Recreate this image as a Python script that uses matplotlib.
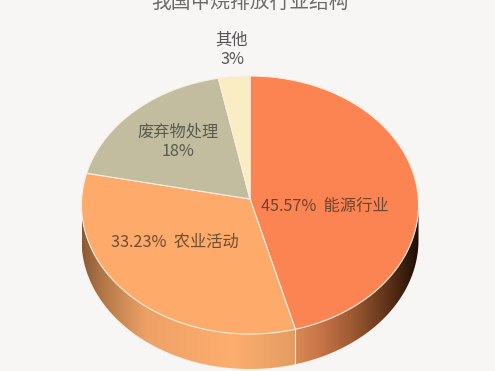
import numpy as np
import matplotlib
matplotlib.use('Agg')
import matplotlib.pyplot as plt
from matplotlib.colors import LinearSegmentedColormap
from matplotlib.patches import Polygon

plt.rcParams['font.family'] = ['Noto Sans CJK SC', 'DejaVu Sans']

title = "我国甲烷排放行业结构"
names = ["能源行业", "农业活动", "废弃物处理", "其他"]
shares = [45.57, 33.23, 18, 3]
labels = ["45.57%  能源行业", "33.23%  农业活动", "废弃物处理\n18%", "其他\n3%"]
colors = ["#fc8352", "#fdaa6b", "#c2bd9f", "#fbedc3"]

# pie geometry, in image pixels
cx, cy = 250, 205
rx, ry = 168.5, 129
apex = (250, 199)
depth = 35
bg = "#f8f6f4"

fig = plt.figure(figsize=(4.95, 3.71), dpi=100, facecolor=bg)
ax = fig.add_axes([0, 0, 1, 1])
ax.set_xlim(0, 495)
ax.set_ylim(371, 0)
ax.axis('off')


def rim(a0, a1, dy=0):
    # angles clockwise from the top, in degrees
    t = np.radians(np.linspace(a0, a1, 200))
    return np.column_stack([cx + rx * np.sin(t), cy - ry * np.cos(t) + dy])


edges = np.concatenate([[0], np.cumsum(shares)]) / sum(shares) * 360

# side wall, with its metallic shading
walls = [
    (90, edges[1], [(0, "#d98a58"), (0.2, "#c87448"), (0.45, "#a05c34"),
                    (0.75, "#5e3219"), (1, "#1c0e05")]),
    (edges[1], 270, [(0, "#8a5a35"), (0.1, "#b47848"), (0.3, "#eea166"),
                     (0.7, "#fdae6e"), (1, "#e39c62")]),
]
for a0, a1, stops in walls:
    top = rim(a0, a1)
    bottom = rim(a1, a0, depth)
    poly = Polygon(np.vstack([top, bottom]), closed=True, fc='none', ec='none')
    ax.add_patch(poly)
    x0, x1 = np.vstack([top, bottom])[:, 0].min(), np.vstack([top, bottom])[:, 0].max()
    cmap = LinearSegmentedColormap.from_list('wall', stops)
    im = ax.imshow(np.linspace(0, 1, 256)[None, :], cmap=cmap, aspect='auto',
                   extent=[x0, x1, cy + ry + depth + 2, cy - 5], zorder=1)
    im.set_clip_path(poly)
ax.set_xlim(0, 495)
ax.set_ylim(371, 0)

# seam on the wall
seam = rim(edges[1], edges[1])[0]
ax.plot([seam[0], seam[0]], [seam[1], seam[1] + depth], color="#fbeee0", lw=0.8, zorder=2)

# top face
for i, c in enumerate(colors):
    pts = np.vstack([[apex], rim(edges[i], edges[i + 1])])
    ax.fill(pts[:, 0], pts[:, 1], fc=c, ec="#fbeee0", lw=0.8, zorder=3, joinstyle='round')

# texts, the title is cut by the top edge as in the source image
ax.text(250, 2.5, title, ha='center', va='center', fontsize=14.2, color="#6a6a68", zorder=5)
ax.text(325, 206, labels[0], ha='center', va='center', fontsize=11.7, color="#6b4630", zorder=5)
ax.text(175, 242, labels[1], ha='center', va='center', fontsize=11.7, color="#6b4e30", zorder=5)
ax.text(178, 142, labels[2], ha='center', va='center', fontsize=11.7, color="#5a5a50",
        linespacing=1.2, zorder=5)
ax.text(232, 50, labels[3], ha='center', va='center', fontsize=11.7, color="#555555",
        linespacing=1.2, zorder=5)

fig.savefig("out.png", dpi=100, facecolor=bg)
